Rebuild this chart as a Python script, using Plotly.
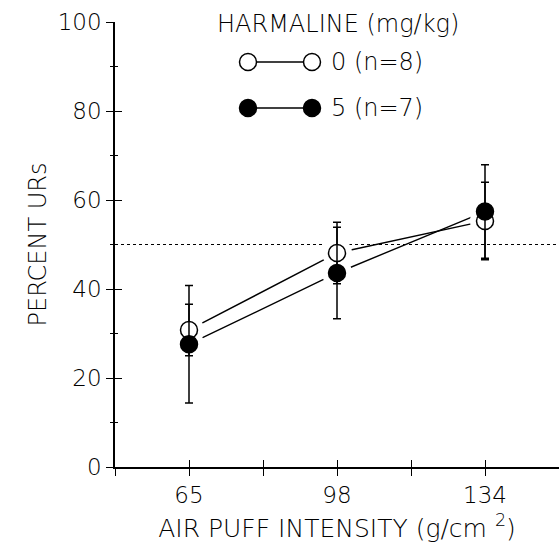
import plotly.graph_objects as go

# ---- data ----
intensity_labels = ["65", "98", "134"]
x_pos = [0, 1, 2]
pct_dose0 = [30.8, 48.1, 55.3]
err_dose0 = [5.8, 6.9, 8.7]
pct_dose5 = [27.6, 43.6, 57.4]
err_dose5 = [13.2, 10.3, 10.5]
chance_level = 50
legend_title = "HARMALINE (mg/kg)"
legend_labels = ["0 (n=8)", "5 (n=7)"]
y_major = [0, 20, 40, 60, 80, 100]
y_minor = [10, 30, 50, 70, 90]

FONT = dict(family="DejaVu Sans", size=23, color="black", weight=200)
TFONT = dict(family="DejaVu Sans", size=25, color="black", weight=200)
LFONT = dict(family="DejaVu Sans", size=24, color="black", weight=200)
BLACK = "black"

fig = go.Figure()

# connecting lines
for ys in (pct_dose0, pct_dose5):
    fig.add_trace(go.Scatter(x=x_pos, y=ys, mode="lines",
                             line=dict(color=BLACK, width=1.4),
                             hoverinfo="skip", showlegend=False))
# white halos to leave gaps between lines and markers
for ys in (pct_dose0, pct_dose5):
    fig.add_trace(go.Scatter(x=x_pos, y=ys, mode="markers",
                             marker=dict(size=30, color="white", line=dict(width=0)),
                             hoverinfo="skip", showlegend=False))
# markers with error bars
fig.add_trace(go.Scatter(x=x_pos, y=pct_dose0, mode="markers",
                         marker=dict(size=17, color="white", line=dict(color=BLACK, width=1.5)),
                         error_y=dict(type="data", array=err_dose0, color=BLACK, thickness=1.5, width=4),
                         showlegend=False))
fig.add_trace(go.Scatter(x=x_pos, y=pct_dose5, mode="markers",
                         marker=dict(size=17, color=BLACK, line=dict(color=BLACK, width=1.5)),
                         error_y=dict(type="data", array=err_dose5, color=BLACK, thickness=1.5, width=4),
                         showlegend=False))

# chance reference line
fig.add_hline(y=chance_level, line=dict(color=BLACK, width=1, dash="dot"), layer="below")

# ---- custom legend ----
W_PLOT = 444.0
H_PLOT = 445.0
def px_x(p):
    return (p - 115) / W_PLOT
def px_y(p):
    return (467 - p) / H_PLOT

fig.add_annotation(x=px_x(338), y=px_y(24), xref="paper", yref="paper",
                   text=legend_title, showarrow=False, font=LFONT,
                   xanchor="center", yanchor="middle")
rows_y = [62, 108]
fills = ["white", BLACK]
for ry, fill, lab in zip(rows_y, fills, legend_labels):
    yp = px_y(ry)
    fig.add_shape(type="line", xref="paper", yref="paper",
                  x0=px_x(257), x1=px_x(303), y0=yp, y1=yp,
                  line=dict(color=BLACK, width=1.4))
    for cx in (248, 312):
        fig.add_shape(type="circle", xref="paper", yref="paper",
                      xsizemode="pixel", ysizemode="pixel",
                      xanchor=px_x(cx), yanchor=yp,
                      x0=-8.5, x1=8.5, y0=-8.5, y1=8.5,
                      fillcolor=fill, line=dict(color=BLACK, width=1.5))
    fig.add_annotation(x=px_x(329), y=yp, xref="paper", yref="paper",
                       text=lab, showarrow=False, font=LFONT,
                       xanchor="left", yanchor="middle")

# ---- axes ----
x_tickvals = [0, 1, 2]
x_minor = [-0.5, 0.5, 1.5, 2.5]

fig.update_layout(
    width=559, height=550,
    margin=dict(l=115, r=0, t=22, b=83),
    paper_bgcolor="white", plot_bgcolor="white",
    font=FONT,
    xaxis=dict(range=[-0.5, 2.5], showgrid=False, zeroline=False,
               showline=True, linecolor=BLACK, linewidth=1.5,
               ticks="outside", ticklen=7, tickwidth=1.2, tickcolor=BLACK,
               tickvals=x_tickvals, ticktext=intensity_labels,
               minor=dict(ticks="outside", ticklen=7, tickwidth=1.2, tickcolor=BLACK,
                          tickvals=x_minor, showgrid=False),
               tickfont=FONT,
               title=dict(text="AIR PUFF INTENSITY (g/cm <sup>2</sup>)", font=TFONT, standoff=12)),
    yaxis=dict(range=[0, 100], showgrid=False, zeroline=False,
               showline=True, linecolor=BLACK, linewidth=1.5,
               ticks="outside", ticklen=7, tickwidth=1.2, tickcolor=BLACK,
               tickvals=y_major, tickfont=FONT,
               minor=dict(ticks="outside", ticklen=3, tickwidth=1.2, tickcolor=BLACK,
                          tickvals=y_minor, showgrid=False),
               title=dict(text="PERCENT URs", font=LFONT, standoff=4)),
    xaxis2=dict(range=[-0.5, 2.5], overlaying="x", side="bottom", anchor="y2",
                showgrid=False, zeroline=False, showline=False,
                ticks="inside", ticklen=7, tickwidth=1.2, tickcolor=BLACK,
                tickvals=x_tickvals, showticklabels=False,
                minor=dict(ticks="inside", ticklen=7, tickwidth=1.2, tickcolor=BLACK,
                           tickvals=x_minor, showgrid=False)),
    yaxis2=dict(range=[0, 100], overlaying="y", side="left", anchor="x2",
                showgrid=False, zeroline=False, showline=False,
                ticks="inside", ticklen=7, tickwidth=1.2, tickcolor=BLACK,
                tickvals=y_major, showticklabels=False,
                minor=dict(ticks="inside", ticklen=3, tickwidth=1.2, tickcolor=BLACK,
                           tickvals=y_minor, showgrid=False)),
)
# invisible trace to activate overlay axes
fig.add_trace(go.Scatter(x=[0], y=[0], xaxis="x2", yaxis="y2",
                         mode="markers", marker=dict(opacity=0),
                         showlegend=False, hoverinfo="skip"))

fig.write_html("out.html")
